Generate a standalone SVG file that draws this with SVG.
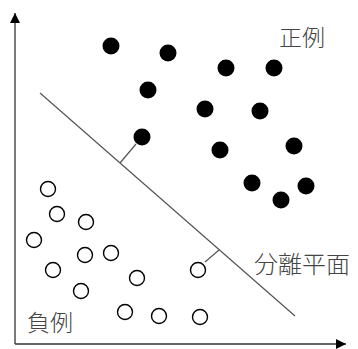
<svg xmlns="http://www.w3.org/2000/svg" width="358" height="349" viewBox="0 0 358 349">
<style>
.pos{fill:#000}
.neg{fill:none;stroke:#000;stroke-width:1.4}
.ax{stroke:#333;stroke-width:1.3;fill:none}
.sep{stroke:#555;stroke-width:1.2;fill:none}
.lbl{font-family:"Noto Sans CJK JP","Noto Sans CJK SC",sans-serif;font-size:23px;font-weight:300;fill:#444}
</style>
<defs>
<marker id="ah" viewBox="0 0 10 10" refX="10" refY="5" markerWidth="10" markerHeight="10" markerUnits="userSpaceOnUse" orient="auto">
<path d="M0,0 L10,5 L0,10 z" fill="#000"/>
</marker>
</defs>
<g id="connectors">
<path class="ax" d="M15,344 L15,13" marker-end="url(#ah)"/>
<path class="ax" d="M15,344 L346,344" marker-end="url(#ah)"/>
<path id="separating-plane" class="sep" d="M40,93 L295,316"/>
<path class="sep" d="M136,144 L120,163"/>
<path class="sep" d="M205,262 L219,250"/>
</g>
<g id="positive">
<circle class="pos" cx="111" cy="46" r="8.5"/>
<circle class="pos" cx="168" cy="53" r="8.5"/>
<circle class="pos" cx="226" cy="68" r="8.5"/>
<circle class="pos" cx="274" cy="68" r="8.5"/>
<circle class="pos" cx="148" cy="90" r="8.5"/>
<circle class="pos" cx="205" cy="109" r="8.5"/>
<circle class="pos" cx="260" cy="111" r="8.5"/>
<circle class="pos" cx="142" cy="137" r="8.5"/>
<circle class="pos" cx="220" cy="150" r="8.5"/>
<circle class="pos" cx="294" cy="146" r="8.5"/>
<circle class="pos" cx="252" cy="183" r="8.5"/>
<circle class="pos" cx="306" cy="186" r="8.5"/>
<circle class="pos" cx="281" cy="200" r="8.5"/>
</g>
<g id="negative">
<circle class="neg" cx="48" cy="189" r="7.5"/>
<circle class="neg" cx="57" cy="214" r="7.5"/>
<circle class="neg" cx="86" cy="222" r="7.5"/>
<circle class="neg" cx="34" cy="240" r="7.5"/>
<circle class="neg" cx="85" cy="255" r="7.5"/>
<circle class="neg" cx="111" cy="253" r="7.5"/>
<circle class="neg" cx="53" cy="270" r="7.5"/>
<circle class="neg" cx="137" cy="278" r="7.5"/>
<circle class="neg" cx="81" cy="291" r="7.5"/>
<circle class="neg" cx="125" cy="312" r="7.5"/>
<circle class="neg" cx="159" cy="316" r="7.5"/>
<circle class="neg" cx="198" cy="270" r="7.5"/>
<circle class="neg" cx="200" cy="317" r="7.5"/>
</g>
<g id="labels">
<text id="label-pos" class="lbl" x="279" y="46">正例</text>
<text id="label-neg" class="lbl" x="27" y="331">負例</text>
<text id="label-plane" class="lbl" x="254" y="273" style="font-size:24px">分離平面</text>
</g>
</svg>
